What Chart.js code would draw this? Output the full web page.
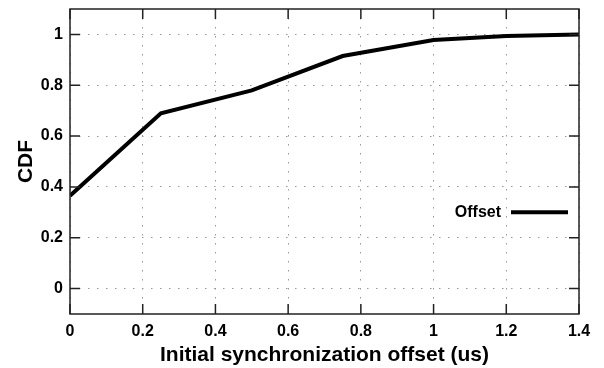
<!DOCTYPE html>
<html>
<head>
<meta charset="utf-8">
<script src="https://cdn.jsdelivr.net/npm/chart.js@4/dist/chart.umd.min.js"></script>
<style>
  html, body { margin: 0; padding: 0; background: #fff; }
  #wrap { width: 604px; height: 368px; }
</style>
</head>
<body>
<div id="wrap"><canvas id="cdf"></canvas></div>
<script>
// offset (us) vs. cumulative fraction
const offsets = [0, 0.25, 0.5, 0.75, 1.0, 1.2, 1.4];
const cdfValues = [0.365, 0.69, 0.78, 0.915, 0.978, 0.994, 1.0];
const xTicks = [0, 0.2, 0.4, 0.6, 0.8, 1, 1.2, 1.4];
const yTicks = [0, 0.2, 0.4, 0.6, 0.8, 1];
const seriesLabel = 'Offset';

const FONT = '"Liberation Sans", Arial, Helvetica, sans-serif';

// box frame with inward tick marks on all four sides
const frameTicks = {
  id: 'frameTicks',
  afterDraw(chart) {
    const { ctx, chartArea: a, scales: { x, y } } = chart;
    const len = 10;
    ctx.save();
    ctx.strokeStyle = '#222';
    ctx.lineWidth = 1.5;
    ctx.strokeRect(a.left, a.top, a.right - a.left, a.bottom - a.top);
    ctx.beginPath();
    xTicks.forEach(v => {
      const px = x.getPixelForValue(v);
      ctx.moveTo(px, a.bottom); ctx.lineTo(px, a.bottom - len);
      ctx.moveTo(px, a.top); ctx.lineTo(px, a.top + len);
    });
    yTicks.forEach(v => {
      const py = y.getPixelForValue(v);
      ctx.moveTo(a.left, py); ctx.lineTo(a.left + len, py);
      ctx.moveTo(a.right, py); ctx.lineTo(a.right - len, py);
    });
    ctx.stroke();
    ctx.restore();
  }
};

// legend entry inside the plot, right side
const innerLegend = {
  id: 'innerLegend',
  afterDatasetsDraw(chart) {
    const { ctx, chartArea: a, scales: { y } } = chart;
    const ds = chart.data.datasets[0];
    const py = y.getPixelForValue(0.3);
    const x1 = a.right - 11, x0 = x1 - 57;
    ctx.save();
    ctx.font = 'bold 16px ' + FONT;
    ctx.fillStyle = '#000';
    ctx.textAlign = 'right';
    ctx.textBaseline = 'middle';
    ctx.fillText(ds.label, x0 - 10, py);
    ctx.strokeStyle = ds.borderColor;
    ctx.lineWidth = ds.borderWidth;
    ctx.beginPath();
    ctx.moveTo(x0, py); ctx.lineTo(x1, py);
    ctx.stroke();
    ctx.restore();
  }
};

const gridStyle = {
  color: '#999',
  lineWidth: 1,
  tickLength: 0,
  drawTicks: false
};

new Chart(document.getElementById('cdf'), {
  type: 'line',
  data: {
    datasets: [{
      label: seriesLabel,
      data: offsets.map((v, i) => ({ x: v, y: cdfValues[i] })),
      borderColor: '#000',
      borderWidth: 4,
      pointRadius: 0,
      tension: 0,
      fill: false
    }]
  },
  options: {
    responsive: true,
    maintainAspectRatio: false,
    animation: false,
    layout: { padding: { top: 9, right: 25, left: 0, bottom: 0 } },
    plugins: { legend: { display: false }, tooltip: { enabled: false } },
    scales: {
      x: {
        type: 'linear',
        min: 0, max: 1.4,
        afterBuildTicks: s => { s.ticks = xTicks.map(v => ({ value: v })); },
        afterFit: s => { s.height = 54; },
        border: { display: false, dash: [1.5, 7.5] },
        grid: gridStyle,
        ticks: {
          padding: 8,
          color: '#000',
          maxRotation: 0,
          font: { family: FONT, size: 16, weight: 'bold' },
          callback: v => String(v)
        },
        title: {
          display: true,
          text: 'Initial synchronization offset (us)',
          color: '#000',
          padding: { top: 0, bottom: 0 },
          font: { family: FONT, size: 21, weight: 'bold' }
        }
      },
      y: {
        min: -0.1, max: 1.1,
        afterBuildTicks: s => { s.ticks = yTicks.map(v => ({ value: v })); },
        afterFit: s => { s.width = 70; s.paddingTop = 0; s.paddingBottom = 0; },
        border: { display: false, dash: [1.5, 7.5] },
        grid: gridStyle,
        ticks: {
          padding: 7,
          color: '#000',
          font: { family: FONT, size: 16, weight: 'bold' },
          callback: v => String(Math.round(v * 10) / 10)
        },
        title: {
          display: true,
          text: 'CDF',
          color: '#000',
          padding: { top: 14, bottom: 0 },
          font: { family: FONT, size: 21, weight: 'bold' }
        }
      }
    }
  },
  plugins: [frameTicks, innerLegend]
});
</script>
</body>
</html>
